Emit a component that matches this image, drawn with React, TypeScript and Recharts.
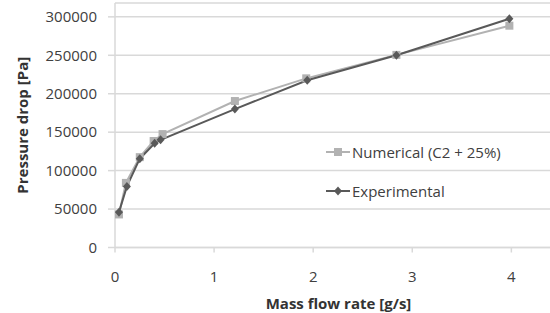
import { CartesianGrid, Line, LineChart, XAxis, YAxis } from "recharts";

const numericalFlow = [0.04, 0.11, 0.25, 0.39, 0.48, 1.21, 1.93, 2.84, 3.98];
const numericalDrop = [43000, 84000, 117500, 138500, 147500, 190500, 220000, 250500, 288500];
const experimentalFlow = [0.04, 0.12, 0.25, 0.4, 0.46, 1.21, 1.94, 2.84, 3.98];
const experimentalDrop = [46000, 79500, 115500, 135500, 140000, 180000, 217500, 250000, 297500];
const xTicks = [0, 1, 2, 3, 4];
const yTicks = [0, 50000, 100000, 150000, 200000, 250000, 300000];

const numericalData = numericalFlow.map((x, i) => ({ x, y: numericalDrop[i] }));
const experimentalData = experimentalFlow.map((x, i) => ({ x, y: experimentalDrop[i] }));

const FONT = "'Open Sans', sans-serif";
const NUM_COLOR = "#b2b2b2";
const EXP_COLOR = "#595959";
const GRID = "#d9d9d9";

const SquareDot = (props: any) => {
  const { cx, cy } = props;
  if (cx == null || cy == null) return null;
  return <rect x={cx - 4} y={cy - 4} width={8} height={8} fill={NUM_COLOR} />;
};

const DiamondDot = (props: any) => {
  const { cx, cy } = props;
  if (cx == null || cy == null) return null;
  return (
    <path
      d={`M${cx},${cy - 4.5}L${cx + 4},${cy}L${cx},${cy + 4.5}L${cx - 4},${cy}Z`}
      fill={EXP_COLOR}
    />
  );
};

// legend sits inside the plot area, like the Excel original
const ChartLegend = () => (
  <div
    style={{
      position: "absolute",
      left: 326,
      top: 142,
      fontFamily: FONT,
      fontSize: 15,
      color: "#404040",
      lineHeight: "20px",
    }}
  >
    <div style={{ display: "flex", alignItems: "center", height: 20 }}>
      <svg width={26} height={12}>
        <line x1={0} y1={6} x2={24} y2={6} stroke={NUM_COLOR} strokeWidth={2} />
        <rect x={8} y={2} width={8} height={8} fill={NUM_COLOR} />
      </svg>
      <span>Numerical (C2 + 25%)</span>
    </div>
    <div style={{ display: "flex", alignItems: "center", height: 20, marginTop: 19 }}>
      <svg width={26} height={12}>
        <line x1={0} y1={6} x2={24} y2={6} stroke={EXP_COLOR} strokeWidth={2} />
        <path d="M12,1.5L16,6L12,10.5L8,6Z" fill={EXP_COLOR} />
      </svg>
      <span>Experimental</span>
    </div>
  </div>
);

export default function App() {
  return (
    <div style={{ position: "absolute", left: 0, top: 0, width: 550, height: 313, background: "#fff" }}>
      <LineChart width={550} height={313} margin={{ top: 3, right: 0, left: 0, bottom: 0 }}>
        <CartesianGrid vertical={false} stroke={GRID} strokeWidth={1.5} />
        <XAxis
          type="number"
          dataKey="x"
          domain={[0, 4.39]}
          ticks={xTicks}
          allowDataOverflow
          height={65.5}
          stroke={GRID}
          strokeWidth={1.5}
          tickSize={5}
          tickMargin={19}
          tick={{ fill: "#404040", fontSize: 15, fontFamily: FONT }}
          label={{
            value: "Mass flow rate [g/s]",
            position: "insideBottom",
            offset: 4,
            dx: 6,
            style: { fill: "#333", fontSize: 15, fontWeight: 700, fontFamily: FONT },
          }}
        />
        <YAxis
          type="number"
          dataKey="y"
          domain={[0, 318000]}
          ticks={yTicks}
          width={115}
          stroke={GRID}
          strokeWidth={1.5}
          tickSize={7}
          tickMargin={11}
          tick={{ fill: "#404040", fontSize: 15, fontFamily: FONT }}
          label={{
            value: "Pressure drop [Pa]",
            angle: -90,
            position: "insideLeft",
            offset: 23,
            style: { fill: "#333", fontSize: 15, fontWeight: 700, fontFamily: FONT, textAnchor: "middle" },
          }}
        />
        <Line
          data={numericalData}
          dataKey="y"
          name="Numerical (C2 + 25%)"
          stroke={NUM_COLOR}
          strokeWidth={2}
          dot={<SquareDot />}
          activeDot={false}
          isAnimationActive={false}
        />
        <Line
          data={experimentalData}
          dataKey="y"
          name="Experimental"
          stroke={EXP_COLOR}
          strokeWidth={2}
          dot={<DiamondDot />}
          activeDot={false}
          isAnimationActive={false}
        />
      </LineChart>
      <ChartLegend />
    </div>
  );
}
